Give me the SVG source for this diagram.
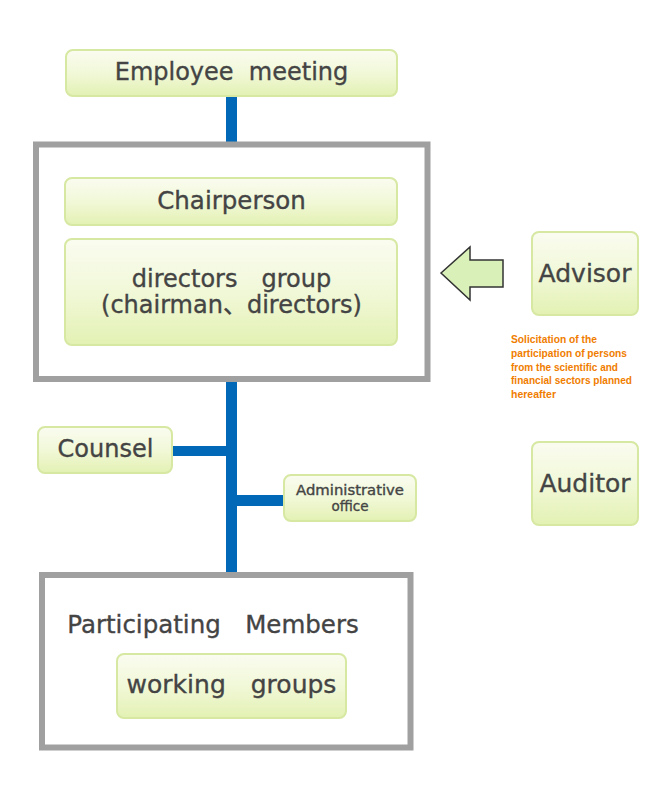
<svg xmlns="http://www.w3.org/2000/svg" width="670" height="790" viewBox="0 0 670 790">
<defs>
<linearGradient id="gg" x1="0" y1="0" x2="0" y2="1">
<stop offset="0" stop-color="#fafcf0"/>
<stop offset="0.5" stop-color="#f1f8d8"/>
<stop offset="1" stop-color="#e3f1b3"/>
</linearGradient>
<style>
.box{fill:url(#gg);stroke:#d6e8a2;stroke-width:2}
.frame{fill:#fff;stroke:#a0a0a0;stroke-width:6}
.t{font-family:"DejaVu Sans","Noto Sans CJK JP",sans-serif;fill:#444;stroke:#444;stroke-width:0.35;text-anchor:middle;white-space:pre}
.o{font-family:"Liberation Sans",sans-serif;font-weight:bold;font-size:11.5px;fill:#f07d00}
.wire{fill:#0068b7}
</style>
</defs>
<rect width="670" height="790" fill="#fff"/>
<g id="connectors">
<rect class="wire" x="226" y="96" width="11" height="47"/>
<rect class="wire" x="226" y="381" width="11" height="192"/>
<rect class="wire" x="172" y="446" width="54" height="10"/>
<rect class="wire" x="237" y="495" width="47" height="11"/>
</g>
<g id="employee-meeting">
<rect class="box" x="66" y="50" width="331" height="46" rx="7"/>
<text class="t" x="231.5" y="80" font-size="24">Employee  meeting</text>
</g>
<g id="board">
<rect class="frame" x="36" y="144.5" width="391.5" height="234.5"/>
</g>
<g id="chairperson">
<rect class="box" x="65" y="178" width="332" height="47" rx="7"/>
<text class="t" x="231.5" y="209" font-size="24.5">Chairperson</text>
</g>
<g id="directors-group">
<rect class="box" x="65" y="239" width="332" height="106" rx="7"/>
<text class="t" x="231.5" y="287" font-size="24">directors　group</text>
<text class="t" x="231.5" y="313" font-size="24">(chairman、directors)</text>
</g>
<g id="arrow">
<path d="M441,273 L470,247 L470,260 L503,260 L503,287 L470,287 L470,300 Z" fill="#d9f0b9" stroke="#333" stroke-width="1.5" stroke-linejoin="miter"/>
</g>
<g id="advisor">
<rect class="box" x="532" y="232" width="106" height="83" rx="7"/>
<text class="t" x="585" y="282" font-size="25">Advisor</text>
</g>
<g id="note">
<text class="o" x="511" y="343" textLength="86" lengthAdjust="spacingAndGlyphs">Solicitation of the</text>
<text class="o" x="511" y="357" textLength="116" lengthAdjust="spacingAndGlyphs">participation of persons</text>
<text class="o" x="511" y="370.5" textLength="107" lengthAdjust="spacingAndGlyphs">from the scientific and</text>
<text class="o" x="511" y="384" textLength="121" lengthAdjust="spacingAndGlyphs">financial sectors planned</text>
<text class="o" x="511" y="398" textLength="45" lengthAdjust="spacingAndGlyphs">hereafter</text>
</g>
<g id="auditor">
<rect class="box" x="532" y="442" width="106" height="83" rx="7"/>
<text class="t" x="585" y="492" font-size="25">Auditor</text>
</g>
<g id="counsel">
<rect class="box" x="38" y="427" width="134" height="46" rx="7"/>
<text class="t" x="105.5" y="457" font-size="24">Counsel</text>
</g>
<g id="administrative-office">
<rect class="box" x="284" y="475" width="132" height="46" rx="7"/>
<text class="t" x="350" y="495" font-size="13.5" stroke-width="0.2" textLength="108" lengthAdjust="spacingAndGlyphs">Administrative</text>
<text class="t" x="350" y="511" font-size="13.5" stroke-width="0.2">office</text>
</g>
<g id="participating-members">
<rect class="frame" x="42" y="575" width="368.5" height="172.5"/>
<text class="t" x="213" y="633" font-size="24.5">Participating　Members</text>
</g>
<g id="working-groups">
<rect class="box" x="117" y="654" width="229" height="64" rx="7"/>
<text class="t" x="231.5" y="693" font-size="25">working　groups</text>
</g>
</svg>
